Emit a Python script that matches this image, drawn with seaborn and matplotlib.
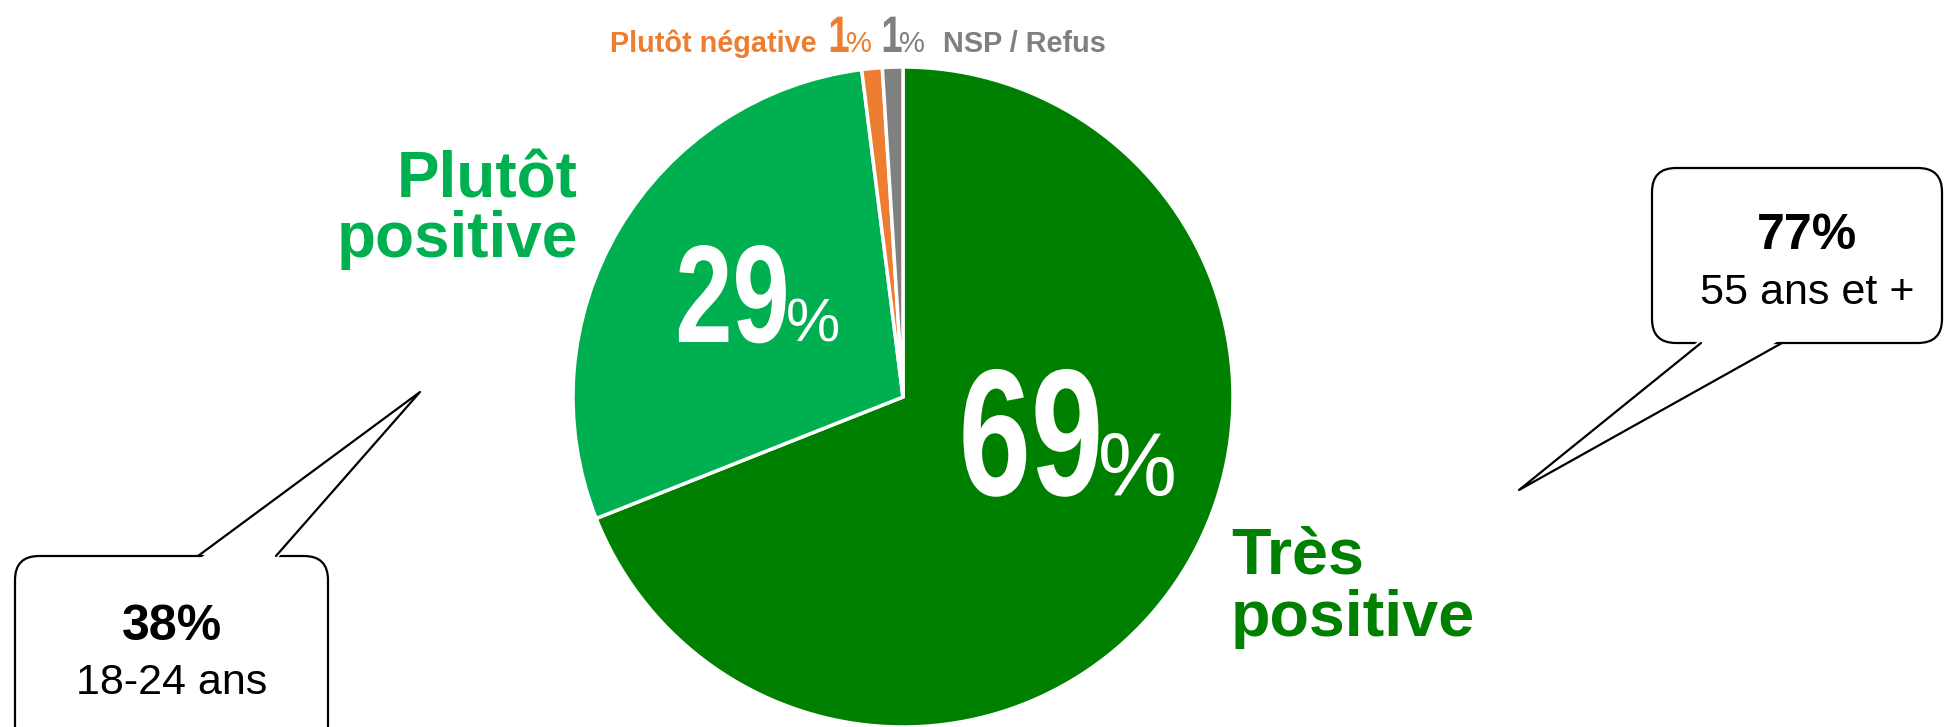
import matplotlib
matplotlib.use("Agg")
import matplotlib.pyplot as plt
import seaborn as sns
from matplotlib.patches import FancyBboxPatch, Polygon
from matplotlib.lines import Line2D
from matplotlib.patheffects import AbstractPathEffect
from matplotlib.transforms import Affine2D

# data
labels = ["Très positive", "Plutôt positive", "Plutôt négative", "NSP / Refus"]
values = [69, 29, 1, 1]
colors = ["#008000", "#00B050", "#ED7D31", "#808080"]

callout_values = ["38%", "77%"]
callout_groups = ["18-24 ans", "55 ans et +"]

W, H = 1944, 727

sns.set_style("white")
plt.rcParams["font.family"] = ["Liberation Sans", "DejaVu Sans"]


class Squeeze(AbstractPathEffect):
    # draws the glyphs narrower (condensed look) around their right ink edge,
    # optional shift dx in pixels; the text itself stays a normal Text artist
    def __init__(self, sx, dx=0):
        super().__init__()
        self.sx = sx
        self.dx = dx

    def draw_path(self, renderer, gc, tpath, affine, rgbFace=None):
        xmax = tpath.get_extents().x1
        t = Affine2D().translate(-xmax, 0).scale(self.sx, 1).translate(xmax, 0)
        renderer.draw_path(gc, tpath, t + affine + Affine2D().translate(self.dx, 0),
                           rgbFace)


fig = plt.figure(figsize=(W / 100, H / 100), dpi=100)
ax = fig.add_axes([0, 0, 1, 1])


def Y(y):
    # image y (top-down) -> axes y
    return H - y


ax.pie(values, colors=colors, startangle=90, counterclock=False,
       center=(903, Y(397)), radius=330,
       wedgeprops=dict(edgecolor="white", linewidth=2.5))

# pie() resets the limits, so set them afterwards
ax.set_xlim(0, W)
ax.set_ylim(0, H)
ax.set_aspect("equal")
ax.axis("off")

# big percentages in slices
ax.text(1097, Y(495), "69", ha="right", va="baseline", fontsize=130,
        fontweight="bold", color="white", path_effects=[Squeeze(0.72, dx=8)])
ax.text(1098, Y(495), "%", ha="left", va="baseline", fontsize=64,
        color="white")
ax.text(785, Y(342), "29", ha="right", va="baseline", fontsize=100,
        fontweight="bold", color="white", path_effects=[Squeeze(0.74, dx=6)])
ax.text(786, Y(342), "%", ha="left", va="baseline", fontsize=44,
        color="white")

# small slices at the top
ax.text(817, Y(52), labels[2], ha="right", va="baseline", fontsize=20.8,
        fontweight="bold", color=colors[2])
ax.text(846, Y(52), "1", ha="right", va="baseline", fontsize=37,
        fontweight="bold", color=colors[2],
        path_effects=[Squeeze(0.75, dx=4)])
ax.text(846, Y(52), "%", ha="left", va="baseline", fontsize=21,
        color=colors[2])
ax.text(899, Y(52), "1", ha="right", va="baseline", fontsize=37,
        fontweight="bold", color=colors[3],
        path_effects=[Squeeze(0.75, dx=4)])
ax.text(899, Y(52), "%", ha="left", va="baseline", fontsize=21,
        color=colors[3])
ax.text(943, Y(52), labels[3], ha="left", va="baseline", fontsize=20.8,
        fontweight="bold", color=colors[3])

# category labels
ax.text(578, Y(197), "Plutôt", ha="right", va="baseline", fontsize=46,
        fontweight="bold", color=colors[1])
ax.text(578, Y(257), "positive", ha="right", va="baseline", fontsize=46,
        fontweight="bold", color=colors[1])
ax.text(1231, Y(574), "Très", ha="left", va="baseline", fontsize=46.5,
        fontweight="bold", color=colors[0])
ax.text(1231, Y(636), "positive", ha="left", va="baseline", fontsize=46.5,
        fontweight="bold", color=colors[0])


def callout(x0, y0, x1, y1, base, tip, edge_y, value, group, cx, vy, gy):
    box = FancyBboxPatch((x0, Y(y1)), x1 - x0, y1 - y0,
                         boxstyle="round,pad=0,rounding_size=24",
                         facecolor="white", edgecolor="black", linewidth=1.6,
                         zorder=3)
    ax.add_patch(box)
    b1, b2 = base
    inner = 4 if edge_y == y0 else -4
    cover = Polygon([(b1, Y(edge_y + inner)), (tip[0], Y(tip[1])),
                     (b2, Y(edge_y + inner))],
                    closed=True, facecolor="white", edgecolor="none", zorder=4)
    ax.add_patch(cover)
    ax.add_line(Line2D([b1, tip[0], b2], [Y(edge_y), Y(tip[1]), Y(edge_y)],
                       color="black", linewidth=1.6, zorder=5))
    ax.text(cx, Y(vy), value, ha="center", va="center", fontsize=36,
            fontweight="bold", color="black", zorder=6)
    ax.text(cx, Y(gy), group, ha="center", va="center", fontsize=31,
            color="black", zorder=6)


callout(15, 556, 328, 760, (198, 276), (420, 392), 556,
        callout_values[0], callout_groups[0], 172, 627, 683)
callout(1652, 168, 1942, 343, (1701, 1782), (1519, 490), 343,
        callout_values[1], callout_groups[1], 1807, 236, 293)

fig.savefig("out.png", dpi=100)
